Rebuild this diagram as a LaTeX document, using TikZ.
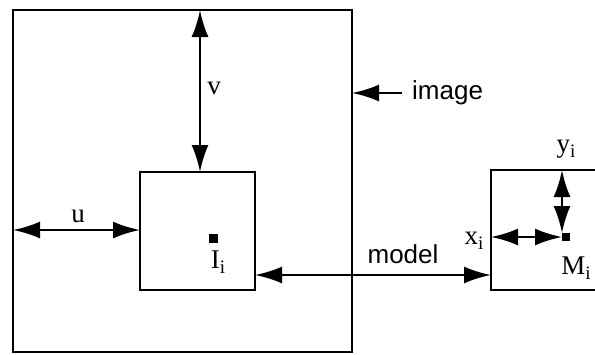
\documentclass[tikz,border=0pt]{standalone}
\usepackage{fontspec}
\setmainfont{Liberation Serif}
\newfontfamily\hvfont{Liberation Sans}
\usetikzlibrary{arrows.meta}
\newcommand{\lowsub}[1]{\raisebox{-0.4ex}{\fontsize{19}{19}\selectfont #1}}
\begin{document}
\begin{tikzpicture}[x=1pt,y=-1pt,
  box/.style={draw,line width=2.4pt,inner sep=0pt,outer sep=0pt},
  tipL/.tip={Latex[length=27pt,width=17pt]},
  dim/.style={line width=2.4pt,tipL-tipL},
  one/.style={line width=2.4pt,-tipL},
  dot/.style={fill=black,inner sep=0pt,outer sep=0pt},
  serif/.style={font=\fontsize{27}{29}\selectfont,inner sep=0pt},
  sans/.style={font=\hvfont\fontsize{26}{28}\selectfont,inner sep=0pt}]
\useasboundingbox (0,0) rectangle (595,354);
% boxes
\node[box,minimum width=339pt,minimum height=342pt] (outer) at (182.5,181) {};
\node[box,minimum width=115pt,minimum height=118pt] (inner) at (197.5,231) {};
\draw[line width=2.4pt] (600,170) coordinate (mtr) -- (491,170) coordinate (mtl)
  -- (491,290) coordinate (mbl) -- (600,290) coordinate (mbr);
% points
\node[dot,minimum size=9pt] (Ip) at (213,238) {};
\node[dot,minimum size=8pt] (Mp) at (566,237) {};
% coordinates for connectors
\coordinate (vtop) at (200,10);
\coordinate (vbot) at (200,172);
\coordinate (uleft) at (13,230);
\coordinate (uright) at (140,230);
\coordinate (mleft) at (255,275);
\coordinate (mright) at (491,275);
\coordinate (imgstart) at (402,93);
\coordinate (imgend) at (352,93);
\coordinate (xleft) at (491,237);
\coordinate (xright) at (562,237);
\coordinate (ytop) at (562,170);
\coordinate (ybot) at (562,233);
% connectors
\draw[dim] (vtop) -- (vbot);
\draw[dim] (uleft) -- (uright);
\draw[dim] (mleft) -- (mright);
\draw[one] (imgstart) -- (imgend);
\draw[dim] (xleft) -- (xright);
\draw[dim] (ytop) -- (ybot);
% labels
\node[serif] (vl) at (214,88) {v};
\node[serif] (ul) at (78,216) {u};
\node[serif] (Il) at (218,262) {I\lowsub{i}};
\node[serif] (xl) at (474,241) {x\lowsub{i}};
\node[serif] (yl) at (566,149) {y\lowsub{i}};
\node[serif] (Ml) at (576,268) {M\lowsub{i}};
\node[sans] (modell) at (403,254) {model};
\node[sans,anchor=west] (imagel) at (412,93) {image};
\end{tikzpicture}
\end{document}
